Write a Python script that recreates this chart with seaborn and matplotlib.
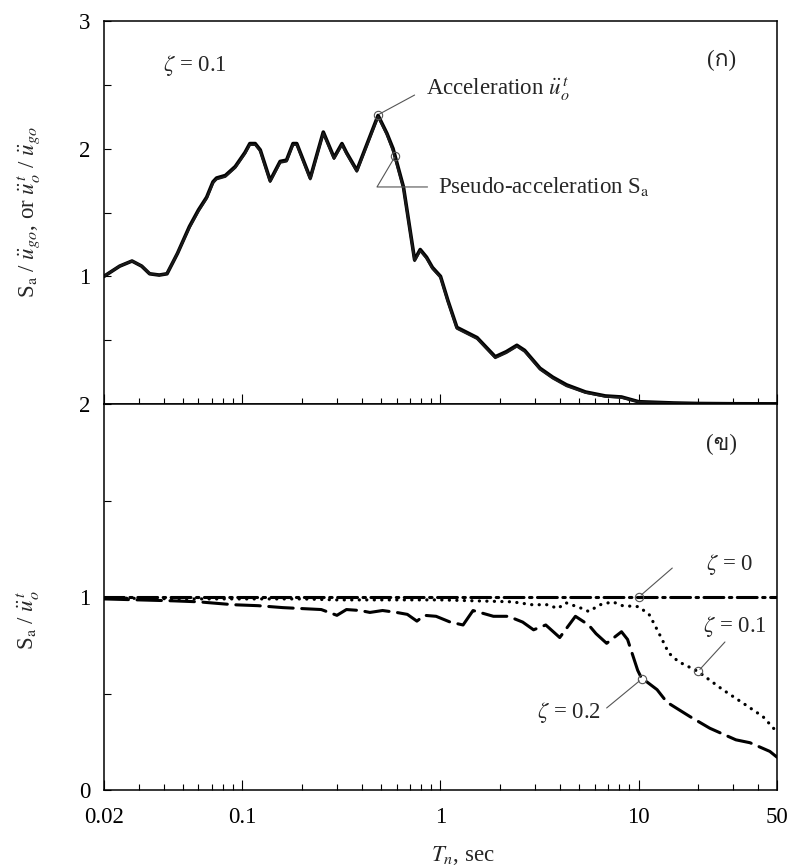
import matplotlib
matplotlib.use("Agg")
import numpy as np
import pandas as pd
import matplotlib.pyplot as plt
import seaborn as sns
from matplotlib import font_manager as fm
from matplotlib.ft2font import FT2Font
from matplotlib.ticker import FixedLocator, FixedFormatter, LogLocator, NullFormatter

# ---- spectrum data, zeta = 0.1 (top panel) ----
period_top = [0.02, 0.024, 0.0277, 0.031, 0.034, 0.038, 0.0416, 0.047, 0.054, 0.060,
              0.066, 0.071, 0.074, 0.082, 0.092, 0.103, 0.109, 0.116, 0.123, 0.138,
              0.155, 0.167, 0.18, 0.188, 0.22, 0.256, 0.29, 0.318, 0.335, 0.378,
              0.484, 0.536, 0.576, 0.65, 0.74, 0.79, 0.85, 0.91, 1.0, 1.09,
              1.21, 1.53, 1.89, 2.15, 2.43, 2.66, 3.18, 3.69, 4.33, 5.4,
              6.8, 8.2, 10, 15, 20, 30, 50]
total_accel = [1.00, 1.08, 1.12, 1.08, 1.02, 1.01, 1.02, 1.18, 1.39, 1.52,
               1.62, 1.74, 1.77, 1.79, 1.86, 1.97, 2.04, 2.04, 1.99, 1.75,
               1.90, 1.91, 2.04, 2.04, 1.77, 2.13, 1.93, 2.04, 1.97, 1.83,
               2.26, 2.12, 2.00, 1.70, 1.13, 1.21, 1.15, 1.07, 1.00, 0.81,
               0.60, 0.52, 0.37, 0.41, 0.46, 0.42, 0.28, 0.21, 0.15, 0.094,
               0.063, 0.055, 0.018, 0.008, 0.004, 0.002, 0.001]
pseudo_accel = [1.00, 1.08, 1.12, 1.08, 1.02, 1.01, 1.02, 1.18, 1.38, 1.51,
                1.61, 1.73, 1.76, 1.78, 1.85, 1.96, 2.03, 2.03, 1.98, 1.74,
                1.89, 1.90, 2.03, 2.03, 1.76, 2.12, 1.92, 2.03, 1.96, 1.82,
                2.25, 2.11, 1.98, 1.69, 1.12, 1.20, 1.14, 1.06, 0.99, 0.80,
                0.59, 0.51, 0.36, 0.40, 0.45, 0.41, 0.27, 0.20, 0.14, 0.088,
                0.058, 0.050, 0.016, 0.006, 0.0025, 0.001, 0.0003]

# ---- ratio S_a / total acceleration (bottom panel) ----
period_z0 = [0.02, 0.1, 1.0, 10, 50]
ratio_z0 = [1.0, 1.0, 1.0, 1.0, 1.0]

period_z1 = [0.02, 0.05, 0.1, 0.2, 0.3, 0.5, 1.0, 2.3, 2.9, 3.5,
             3.9, 4.3, 5.2, 5.6, 6.4, 7.4, 8.3, 10, 11.3, 12.0,
             13.0, 14.2, 15.9, 19.9, 26.6, 33.7, 42.5, 50]
ratio_z1 = [0.995, 0.99, 0.99, 0.99, 0.985, 0.985, 0.985, 0.975, 0.96, 0.96,
            0.94, 0.97, 0.94, 0.925, 0.96, 0.975, 0.955, 0.95, 0.91, 0.86,
            0.79, 0.71, 0.665, 0.615, 0.52, 0.45, 0.38, 0.30]

period_z2 = [0.02, 0.03, 0.045, 0.06, 0.09, 0.12, 0.16, 0.2, 0.25, 0.30,
             0.335, 0.393, 0.44, 0.51, 0.6, 0.68, 0.76, 0.83, 0.95, 1.12,
             1.3, 1.46, 1.85, 2.2, 2.6, 2.95, 3.4, 4.0, 4.8, 5.6,
             6.1, 6.9, 8.2, 8.8, 9.9, 10.4, 10.7, 12.4, 13.9, 18.2,
             22.9, 31, 36.5, 46, 50]
ratio_z2 = [0.99, 0.985, 0.98, 0.975, 0.96, 0.955, 0.945, 0.94, 0.935, 0.905,
            0.935, 0.93, 0.92, 0.93, 0.92, 0.91, 0.875, 0.905, 0.90, 0.87,
            0.855, 0.93, 0.90, 0.90, 0.87, 0.83, 0.855, 0.79, 0.90, 0.855,
            0.81, 0.76, 0.82, 0.78, 0.62, 0.575, 0.57, 0.52, 0.455, 0.38,
            0.32, 0.26, 0.245, 0.20, 0.17]

x_tick_values = [0.02, 0.1, 1, 10, 50]
x_tick_labels = ["0.02", "0.1", "1", "10", "50"]

top = pd.DataFrame({"T": period_top * 2,
                    "value": total_accel + pseudo_accel,
                    "kind": ["total"] * len(period_top) + ["pseudo"] * len(period_top)})
bottom = pd.DataFrame({
    "T": period_z0 + period_z1 + period_z2,
    "ratio": ratio_z0 + ratio_z1 + ratio_z2,
    "zeta": ["0"] * len(period_z0) + ["0.1"] * len(period_z1) + ["0.2"] * len(period_z2),
})

sns.set_style("ticks")
plt.rcParams["font.family"] = ["Liberation Serif", "DejaVu Serif"]
plt.rcParams["mathtext.fontset"] = "stix"
plt.rcParams["axes.linewidth"] = 1.1


def family_with(ch):
    for f in fm.fontManager.ttflist:
        try:
            if ord(ch) in FT2Font(f.fname).get_charmap():
                return f.name
        except Exception:
            continue
    return None


thai = family_with("ก")
panel_fams = ["Liberation Serif"] + ([thai] if thai else []) + ["DejaVu Sans"]

FS = 16.5
fig = plt.figure(figsize=(7.92, 8.66), dpi=100)
left, width = 104 / 792, 673 / 792
ax1 = fig.add_axes([left, 1 - 404 / 866, width, 383 / 866])
ax2 = fig.add_axes([left, 1 - 790 / 866, width, 386 / 866])

# top panel: total and pseudo acceleration spectra
sns.lineplot(data=top, x="T", y="value", hue="kind", size="kind",
             palette={"total": "black", "pseudo": "#1a1a1a"},
             sizes={"total": 2.6, "pseudo": 1.6},
             estimator=None, sort=False, legend=False, ax=ax1)

# bottom panel: ratio curves for three damping values
sns.lineplot(data=bottom, x="T", y="ratio", style="zeta", color="black",
             dashes={"0": (6.5, 1.8, 0.8, 1.8), "0.1": (0.05, 2.3), "0.2": (8.0, 2.8)},
             size="zeta", sizes={"0": 2.2, "0.1": 2.3, "0.2": 2.2},
             estimator=None, sort=False, legend=False, ax=ax2)
for ln in ax2.get_lines():
    ln.set_dash_capstyle("round")

for ax in (ax1, ax2):
    ax.set_xscale("log")
    ax.set_xlim(0.02, 50)
    ax.xaxis.set_major_locator(FixedLocator(x_tick_values))
    ax.xaxis.set_minor_locator(LogLocator(base=10, subs=np.arange(2, 10) * 1.0, numticks=20))
    ax.xaxis.set_minor_formatter(NullFormatter())
    ax.tick_params(axis="both", which="both", direction="in", top=False, right=False,
                   width=0.8, labelsize=FS, colors="black")
    ax.tick_params(axis="x", which="major", length=7.5, pad=12)
    ax.tick_params(axis="x", which="minor", length=4.5)
    ax.tick_params(axis="y", which="major", length=5, pad=10)
    for s in ax.spines.values():
        s.set_visible(True)
        s.set_color("black")
    ax.set_xlabel("")
    ax.set_ylabel("")

ax1.set_ylim(0, 3)
ax1.yaxis.set_major_locator(FixedLocator([0, 0.5, 1, 1.5, 2, 2.5, 3]))
ax1.yaxis.set_major_formatter(FixedFormatter(["", "", "1", "", "2", "", "3"]))
ax1.xaxis.set_major_formatter(NullFormatter())

ax2.set_ylim(0, 2)
ax2.yaxis.set_major_locator(FixedLocator([0, 0.5, 1, 1.5, 2]))
ax2.yaxis.set_major_formatter(FixedFormatter(["0", "", "1", "", "2"]))
ax2.xaxis.set_major_formatter(FixedFormatter(x_tick_labels))

ax1.set_ylabel(r"S$_\mathrm{a}$ / $\ddot{u}_{go}$, or $\ddot{u}^{\,t}_{o}$ / $\ddot{u}_{go}$",
               fontsize=FS)
ax1.yaxis.set_label_coords(-0.092, 0.5)
ax2.set_ylabel(r"S$_\mathrm{a}$ / $\ddot{u}^{\,t}_{o}$", fontsize=FS)
ax2.yaxis.set_label_coords(-0.092, 0.44)
ax2.set_xlabel(r"$T_n$, sec", fontsize=FS)
ax2.xaxis.set_label_coords(0.533, -0.14)

lead = dict(color="#555555", lw=0.8)
ring = dict(marker="o", ms=6, mfc="none", mec="#555555", mew=0.8, zorder=6)

# top panel annotations
ax1.text(0.0397, 2.65, r"$\zeta$ = 0.1", fontsize=FS, ha="left", va="center")
ax1.text(26.2, 2.69, "(ก)", fontsize=FS, ha="center", va="center", family=panel_fams)
ax1.plot([0.484], [2.26], **ring)
ax1.plot([0.49, 0.74], [2.27, 2.42], **lead)
ax1.text(0.84, 2.46, r"Acceleration $\ddot{u}^{\,t}_{o}$", fontsize=FS, ha="left", va="center")
ax1.plot([0.59], [1.94], **ring)
ax1.plot([0.585, 0.478, 0.86], [1.93, 1.70, 1.70], **lead)
ax1.text(0.97, 1.70, r"Pseudo-acceleration S$_\mathrm{a}$", fontsize=FS, ha="left", va="center")

# bottom panel annotations
ax2.text(26.2, 1.79, "(ข)", fontsize=FS, ha="center", va="center", family=panel_fams)
ax2.plot([10], [1.0], **ring)
ax2.plot([10.3, 14.8], [1.01, 1.15], **lead)
ax2.text(22.0, 1.166, r"$\zeta$ = 0", fontsize=FS, ha="left", va="center")
ax2.plot([19.9], [0.615], **ring)
ax2.plot([20.4, 27.3], [0.625, 0.767], **lead)
ax2.text(21.1, 0.845, r"$\zeta$ = 0.1", fontsize=FS, ha="left", va="center")
ax2.plot([10.4], [0.575], **ring)
ax2.plot([10.1, 6.9], [0.565, 0.425], **lead)
ax2.text(3.08, 0.40, r"$\zeta$ = 0.2", fontsize=FS, ha="left", va="center")

fig.savefig("out.png", dpi=100)
